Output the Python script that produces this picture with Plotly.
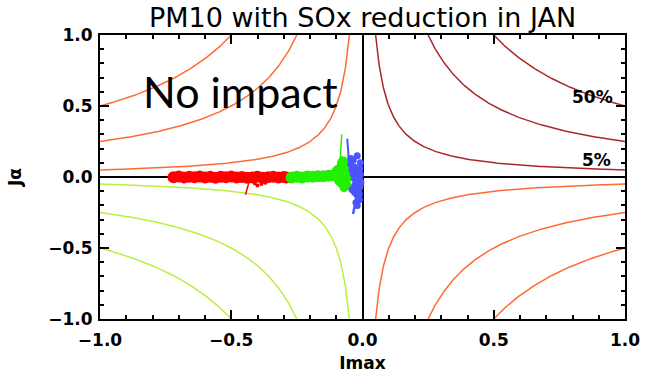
import numpy as np
import plotly.graph_objects as go

# ---- data ----
levels = [0.05, 0.25, 0.5]          # iso-lines of Imax * Jalpha
title_text = "PM10 with SOx reduction in JAN"

red_x = [-0.72, -0.70, -0.68, -0.66, -0.64, -0.62, -0.60, -0.58, -0.56, -0.54, -0.52, -0.50,
         -0.48, -0.46, -0.44, -0.42, -0.40, -0.38, -0.36, -0.34, -0.32, -0.30, -0.29]
red_y = [-0.002, 0.003, -0.004, 0.002, -0.001, 0.004, -0.003, 0.002, -0.005, 0.001, -0.002, 0.003,
         -0.004, 0.000, -0.006, -0.003, 0.002, -0.005, -0.002, 0.001, -0.004, 0.000, -0.003]
red_drip_x = [-0.446, -0.442, -0.438, -0.434, -0.430]
red_drip_y = [-0.125, -0.095, -0.065, -0.040, -0.020]
red_bits_x = [-0.41, -0.40, -0.385, -0.37]
red_bits_y = [-0.045, -0.06, -0.05, -0.04]

green_x = [-0.27, -0.25, -0.23, -0.21, -0.19, -0.17, -0.15, -0.13, -0.11, -0.09, -0.07, -0.055]
green_y = [-0.004, 0.002, -0.003, 0.004, 0.001, 0.005, 0.006, 0.008, 0.012, 0.018, 0.025, 0.015]
green2_x = [-0.10, -0.09, -0.08, -0.07, -0.065, -0.06, -0.09, -0.08, -0.07, -0.065, -0.06,
            -0.08, -0.075, -0.07, -0.05]
green2_y = [0.045, 0.06, 0.08, 0.07, 0.09, 0.05, -0.03, -0.045, -0.055, -0.04, -0.06,
            0.10, 0.115, -0.075, 0.0]
green_spike_x = [-0.086, -0.084, -0.081, -0.079]
green_spike_y = [0.10, 0.17, 0.24, 0.30]

blue_x = [-0.045, -0.04, -0.035, -0.03, -0.025, -0.02, -0.015, -0.01, -0.03, -0.025, -0.02, -0.015,
          -0.01, -0.035, -0.03, -0.025, -0.02, -0.015, -0.03, -0.025, -0.02, -0.01, -0.012, -0.04,
          -0.045, -0.008, -0.006, -0.02, -0.012, -0.008]
blue_y = [0.09, 0.05, 0.02, -0.01, -0.03, 0.0, 0.03, -0.02, -0.06, -0.08, -0.05, -0.10, -0.07,
          0.12, 0.07, 0.04, -0.13, -0.16, -0.11, -0.18, -0.20, 0.06, -0.12, -0.09, 0.13,
          0.02, -0.04, 0.15, -0.16, 0.10]
blue_spike_x = [-0.058, -0.056, -0.053, -0.050]
blue_spike_y = [0.27, 0.20, 0.14, 0.09]
blue_tail_x = [-0.028, -0.032, -0.036]
blue_tail_y = [-0.19, -0.23, -0.26]

# ---- styles ----
c_orange = "#ff6a33"
c_dark = "#a8282a"
c_lime = "#b8f040"
c_red = "#ff0000"
c_green = "#22f000"
c_blue = "#4a55ff"

fig = go.Figure()

# iso-lines
for c in levels:
    xs = np.geomspace(c, 1.0, 300)
    ys = c / xs
    fig.add_trace(go.Scatter(x=xs, y=ys, mode="lines", line=dict(color=c_dark, width=1.5), hoverinfo="skip"))
    fig.add_trace(go.Scatter(x=-xs, y=-ys, mode="lines", line=dict(color=c_lime, width=1.5), hoverinfo="skip"))
    fig.add_trace(go.Scatter(x=-xs, y=ys, mode="lines", line=dict(color=c_orange, width=1.5), hoverinfo="skip"))
    fig.add_trace(go.Scatter(x=xs, y=-ys, mode="lines", line=dict(color=c_orange, width=1.5), hoverinfo="skip"))

# scatter clouds
fig.add_trace(go.Scatter(x=red_x, y=red_y, mode="markers", marker=dict(color=c_red, size=12, line=dict(width=0))))
fig.add_trace(go.Scatter(x=red_drip_x, y=red_drip_y, mode="lines", line=dict(color=c_red, width=1.5)))
fig.add_trace(go.Scatter(x=red_bits_x, y=red_bits_y, mode="markers", marker=dict(color=c_red, size=4, line=dict(width=0))))

fig.add_trace(go.Scatter(x=green_spike_x, y=green_spike_y, mode="lines", line=dict(color=c_green, width=1.5)))
fig.add_trace(go.Scatter(x=green_x, y=green_y, mode="markers", marker=dict(color=c_green, size=12, line=dict(width=0))))
fig.add_trace(go.Scatter(x=green2_x, y=green2_y, mode="markers", marker=dict(color=c_green, size=9, line=dict(width=0))))

fig.add_trace(go.Scatter(x=blue_spike_x, y=blue_spike_y, mode="lines", line=dict(color=c_blue, width=2)))
fig.add_trace(go.Scatter(x=blue_tail_x, y=blue_tail_y, mode="lines", line=dict(color=c_blue, width=2.5)))
fig.add_trace(go.Scatter(x=blue_x, y=blue_y, mode="markers", marker=dict(color=c_blue, size=7, line=dict(width=0))))

tickfont = dict(family="DejaVu Sans", size=17, color="black", weight="bold")

axis_common = dict(
    range=[-1, 1], showgrid=False, zeroline=True, zerolinecolor="black", zerolinewidth=1.5,
    showline=True, linecolor="black", linewidth=2, mirror="ticks", automargin=False,
    ticks="inside", ticklen=9, tickwidth=1.5, tickcolor="black", dtick=0.5, tick0=-1,
    tickformat=".1f", tickfont=tickfont,
    minor=dict(ticks="inside", ticklen=4, tickwidth=1.5, tickcolor="black", dtick=0.1, showgrid=False),
)

fig.update_layout(
    width=645, height=376,
    margin=dict(l=100, r=20, t=35, b=57),
    paper_bgcolor="white", plot_bgcolor="white",
    showlegend=False,
    title=dict(text=title_text, x=0.5, xref="paper", xanchor="center", y=1 - 18 / 376, yref="container",
               yanchor="middle", font=dict(family="DejaVu Sans", size=27, color="black")),
    xaxis=dict(axis_common, title=dict(text="Imax", font=tickfont, standoff=8), ticklabelstandoff=5),
    yaxis=dict(axis_common, title=dict(text="Jα", font=tickfont, standoff=22), ticklabelstandoff=2),
    annotations=[
        dict(text="No impact", x=0.267, y=0.80, xref="paper", yref="paper", showarrow=False,
             font=dict(family="Lato", size=43, color="black"), xanchor="center", yanchor="middle"),
        dict(text="50%", x=0.875, y=0.56, xref="x", yref="y", showarrow=False,
             font=tickfont, xanchor="center", yanchor="middle"),
        dict(text="5%", x=0.89, y=0.12, xref="x", yref="y", showarrow=False,
             font=tickfont, xanchor="center", yanchor="middle"),
    ],
)

# remove the default page margin so the figure sits at the window's top-left corner
fig.write_html("out.html", config={"displayModeBar": False},
               post_script="document.body.style.margin='0';")
